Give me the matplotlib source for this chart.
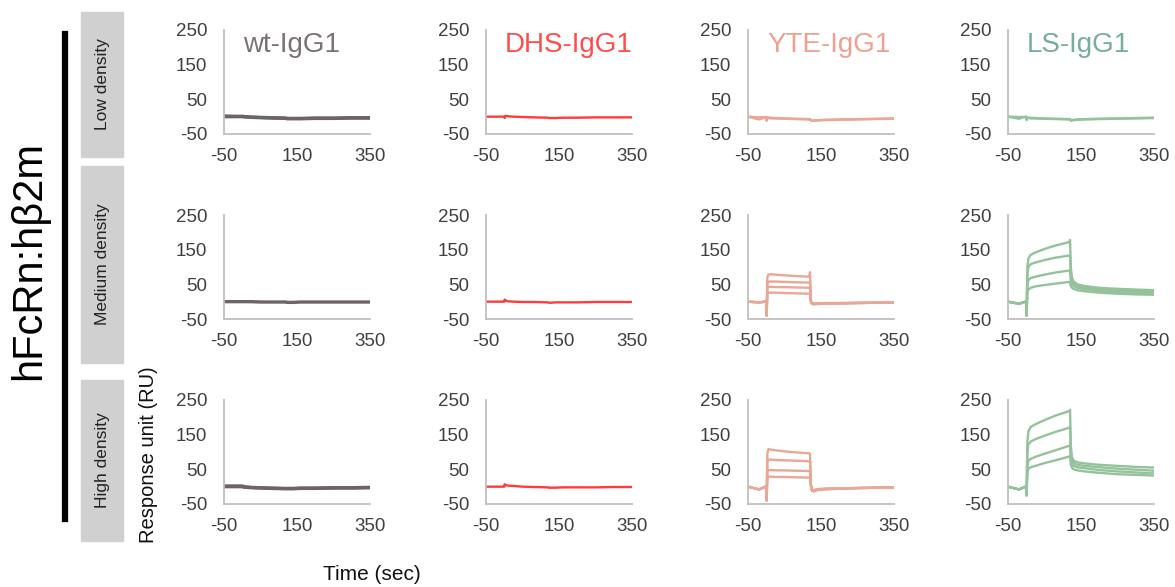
import matplotlib
matplotlib.use('Agg')
import matplotlib.pyplot as plt
from matplotlib.patches import Rectangle
from matplotlib.lines import Line2D

plt.rcParams['font.family'] = ['Liberation Sans', 'DejaVu Sans']
plt.rcParams['axes.unicode_minus'] = False

# ── data (RU vs time in sec) ──────────────────────────────────────────────────
T = [-50, -20, -2, 0, 1, 3, 6, 12, 25, 50, 80, 118, 120, 122, 125, 130, 140,
     160, 200, 250, 300, 350]

ANTIBODIES = ['wt-IgG1', 'DHS-IgG1', 'YTE-IgG1', 'LS-IgG1']
DENSITIES = ['Low density', 'Medium density', 'High density']
TITLE_COLORS = ['#7b7373', '#ff4d4d', '#f0a090', '#76ae99']
LINE_COLORS = ['#6d6464', '#ff3b3b', '#e8a797', '#93c29b']

WT_LOW = [[2, 1, 1, 1, 1, 1, 0, 0, -1, -2, -3, -4, -4, -5, -5, -5, -5, -5, -4, -4, -3, -3],
          [0, 0, 0, 0, 0, 0, -1, -1, -2, -3, -4, -5, -5, -6, -6, -6, -6, -6, -5, -5, -4, -4]]
DHS_LOW = [[0, 0, 0, 0, -4, 2, 2, 1, 0, -1, -2, -3, -3, -4, -4, -4, -4, -3, -3, -2, -2, -2]]
YTE_LOW = [[0, -8, -2, -2, -12, -3, -2, -3, -4, -5, -6, -7, -7, -10, -11, -11, -10, -9, -8, -7, -6, -5],
           [0, -2, -1, -1, -1, -4, -4, -5, -5, -6, -7, -8, -8, -11, -12, -12, -11, -10, -9, -8, -7, -6]]
LS_LOW = [[0, -6, 0, 0, -10, -3, -3, -3, -4, -5, -6, -7, -7, -12, -10, -9, -8, -7, -6, -5, -4, -3],
          [0, -1, -1, -1, -2, -4, -4, -5, -5, -6, -7, -8, -8, -10, -11, -10, -9, -8, -7, -6, -5, -4]]

WT_MED = [[0, 0, 0, 0, 0, 0, 0, 0, 0, -1, -1, -1, -1, -2, -2, -2, -2, -1, -1, -1, -1, -1]]
DHS_MED = [[0, 0, 0, 0, 6, 4, 2, 1, 0, -1, -1, -2, -2, -3, -3, -3, -2, -2, -2, -1, -1, -1]]
YTE_MED = [[0, -2, 0, 0, -40, 70, 78, 79, 78, 76, 74, 72, 85, 5, -6, -8, -7, -6, -5, -4, -3, -2],
           [0, -2, 0, 0, -40, 52, 58, 58, 58, 57, 56, 55, 55, 3, -5, -7, -6, -5, -5, -4, -3, -2],
           [0, -2, 0, 0, -40, 38, 43, 43, 42, 42, 41, 40, 40, 2, -5, -6, -6, -5, -4, -4, -3, -2],
           [0, -2, 0, 0, -40, 22, 26, 26, 26, 25, 24, 23, 23, 1, -4, -5, -5, -4, -4, -3, -3, -2]]
LS_MED = [[0, -6, 0, 0, -40, 100, 125, 135, 142, 152, 162, 172, 178, 100, 70, 58, 50, 45, 40, 37, 35, 33],
          [0, -6, 0, 0, -40, 80, 100, 108, 113, 120, 127, 133, 133, 80, 60, 52, 46, 41, 36, 33, 31, 29],
          [0, -6, 0, 0, -40, 50, 62, 68, 72, 78, 84, 90, 90, 60, 50, 45, 40, 36, 31, 28, 26, 24],
          [0, -6, 0, 0, -40, 25, 35, 40, 44, 48, 52, 57, 57, 45, 40, 37, 33, 30, 26, 23, 21, 20]]

WT_HIGH = [[2, 2, 2, 2, 2, 1, 0, -1, -2, -3, -4, -5, -5, -5, -5, -5, -5, -4, -4, -3, -3, -2],
           [0, 0, 0, 0, 0, -1, -2, -2, -3, -4, -5, -6, -6, -6, -6, -6, -6, -5, -5, -4, -4, -3]]
DHS_HIGH = [[0, 0, 0, 0, 7, 5, 4, 3, 2, 0, -1, -2, -2, -3, -3, -3, -3, -2, -2, -2, -1, -1]]
YTE_HIGH = [[0, -8, 0, 0, -40, 95, 108, 107, 105, 102, 99, 96, 95, 10, -12, -14, -10, -8, -6, -4, -3, -2],
            [0, -8, 0, 0, -40, 70, 78, 78, 77, 76, 75, 73, 73, 8, -10, -12, -9, -7, -5, -4, -3, -2],
            [0, -8, 0, 0, -40, 43, 48, 48, 47, 47, 46, 45, 45, 5, -9, -11, -8, -6, -5, -4, -3, -2],
            [0, -8, 0, 0, -40, 25, 29, 29, 28, 28, 27, 26, 26, 3, -8, -10, -7, -6, -5, -4, -3, -2]]
LS_HIGH = [[0, -8, 0, 0, -25, 130, 160, 172, 180, 192, 205, 218, 222, 120, 85, 75, 70, 67, 63, 60, 57, 55],
           [0, -8, 0, 0, -25, 100, 122, 130, 137, 147, 158, 170, 172, 100, 75, 68, 63, 60, 56, 52, 49, 46],
           [0, -8, 0, 0, -25, 60, 75, 80, 86, 95, 105, 118, 120, 80, 65, 60, 56, 53, 48, 44, 41, 38],
           [0, -8, 0, 0, -25, 40, 52, 56, 60, 68, 76, 87, 88, 65, 55, 50, 47, 44, 40, 36, 34, 32]]

PANELS = [[WT_LOW, DHS_LOW, YTE_LOW, LS_LOW],
          [WT_MED, DHS_MED, YTE_MED, LS_MED],
          [WT_HIGH, DHS_HIGH, YTE_HIGH, LS_HIGH]]

X_TICKS = [-50, 150, 350]
Y_TICKS = [-50, 50, 150, 250]

# ── layout (pixels) ───────────────────────────────────────────────────────────
W, H = 1175, 587
COL_LEFT = [224, 486, 748, 1008]
ROW_TOP = [30, 215, 400]
AX_W, AX_H = 146, 104

fig = plt.figure(figsize=(W / 100, H / 100), dpi=100)


def frect(x, y, w, h):
    return [x / W, 1 - (y + h) / H, w / W, h / H]


for r in range(3):
    for c in range(4):
        ax = fig.add_axes(frect(COL_LEFT[c], ROW_TOP[r], AX_W, AX_H))
        lw = 2.4 if c == 0 else 1.7
        for vals in PANELS[r][c]:
            ax.plot(T, vals, color=LINE_COLORS[c], lw=lw, solid_joinstyle='round')
        ax.set_xlim(-50, 350)
        ax.set_ylim(-50, 250)
        ax.set_xticks(X_TICKS)
        ax.set_yticks(Y_TICKS)
        for s in ['top', 'right']:
            ax.spines[s].set_visible(False)
        for s in ['left', 'bottom']:
            ax.spines[s].set_color('#bfbfbf')
            ax.spines[s].set_linewidth(1.3)
        ax.tick_params(length=0, labelsize=13.5, labelcolor='#404040')
        ax.tick_params(axis='y', pad=12)
        ax.tick_params(axis='x', pad=10)
        ax.patch.set_alpha(0)
        if r == 0:
            ax.text(0.13, 0.79, ANTIBODIES[c], transform=ax.transAxes,
                    fontsize=20, color=TITLE_COLORS[c], ha='left', va='baseline')

# gray row-label boxes
BOX_Y = [(12, 157), (166, 363), (380, 541)]
for (y0, y1), lab in zip(BOX_Y, DENSITIES):
    fig.patches.append(Rectangle((81 / W, 1 - y1 / H), 42 / W, (y1 - y0) / H,
                                 transform=fig.transFigure, color='#d0d0d0',
                                 zorder=0))
    fig.text(103 / W, 1 - (y0 + y1) / 2 / H, lab, rotation=90, fontsize=12.5,
             ha='center', va='center', color='#222222')

# black bracket line and big label
fig.lines.append(Line2D([65 / W, 65 / W], [1 - 34 / H, 1 - 519 / H],
                        transform=fig.transFigure, color='black', lw=4.5))
fig.text(29 / W, 1 - 261 / H, 'hFcRn:hβ2m', rotation=90, fontsize=30,
         ha='center', va='center', color='black')

fig.text(148 / W, 1 - 455 / H, 'Response unit (RU)', rotation=90,
         fontsize=14.5, ha='center', va='center', color='#111111')
fig.text(372 / W, 1 - 575 / H, 'Time (sec)', fontsize=15,
         ha='center', va='center', color='#111111')

fig.savefig('out.png', dpi=100)
